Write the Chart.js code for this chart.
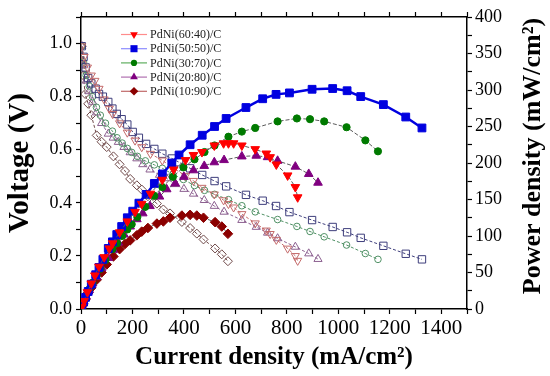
<!DOCTYPE html>
<html>
<head>
<meta charset="utf-8">
<script src="https://cdn.jsdelivr.net/npm/chart.js@4.4.1/dist/chart.umd.min.js"></script>
<style>
  html, body { margin: 0; padding: 0; background: #fff; }
  #wrap { width: 550px; height: 376px; }
</style>
</head>
<body>
<div id="wrap"><canvas id="chart" width="550" height="376"></canvas></div>
<script>
// current density (mA/cm2), voltage (V), power density (mW/cm2)
const curRed = [3, 12, 25, 40, 54, 70, 90, 110, 123, 150, 180, 210, 236, 270, 316, 360, 406, 437, 470, 518, 554, 573, 593, 625, 677, 720, 735, 759, 803, 833, 842];
const voltRed = [0.99, 0.95, 0.91, 0.88, 0.86, 0.83, 0.79, 0.755, 0.735, 0.70, 0.665, 0.635, 0.61, 0.585, 0.56, 0.53, 0.502, 0.483, 0.457, 0.432, 0.41, 0.396, 0.383, 0.358, 0.323, 0.296, 0.283, 0.261, 0.228, 0.2, 0.182];
const powRed = [3, 11, 23, 35, 46, 58, 71, 83, 90, 105, 120, 133, 144, 158, 177, 191, 204, 211, 215, 224, 227, 227, 227, 224, 219, 213, 208, 198, 183, 167, 153];

const curBlue = [3, 10, 18, 28, 40, 57, 70, 85, 106, 122, 139, 158, 180, 201, 225, 253, 285, 316, 353, 381, 424, 471, 519, 564, 641, 706, 758, 810, 898, 978, 1034, 1087, 1175, 1262, 1325];
const voltBlue = [0.99, 0.95, 0.91, 0.87, 0.85, 0.83, 0.81, 0.80, 0.78, 0.755, 0.735, 0.715, 0.695, 0.667, 0.645, 0.622, 0.603, 0.585, 0.567, 0.553, 0.53, 0.505, 0.482, 0.462, 0.43, 0.408, 0.388, 0.365, 0.335, 0.309, 0.289, 0.268, 0.238, 0.208, 0.187];
const powBlue = [3, 9.5, 16, 24, 34, 47, 57, 68, 83, 92, 102, 113, 125, 134, 145, 157, 172, 185, 200, 211, 225, 238, 250, 261, 276, 288, 294, 296, 301, 302, 299, 291, 280, 263, 248];

const curGreen = [3, 10, 20, 32, 45, 60, 75, 95, 122, 140, 160, 180, 197, 219, 250, 285, 316, 357, 398, 441, 480, 519, 573, 625, 677, 764, 839, 890, 945, 1032, 1105, 1154];
const voltGreen = [0.99, 0.93, 0.88, 0.84, 0.80, 0.76, 0.73, 0.70, 0.67, 0.645, 0.625, 0.605, 0.59, 0.575, 0.558, 0.543, 0.53, 0.508, 0.488, 0.465, 0.447, 0.432, 0.412, 0.389, 0.366, 0.337, 0.311, 0.292, 0.272, 0.241, 0.209, 0.187];
const powGreen = [3, 9, 18, 27, 36, 46, 55, 67, 82, 90, 100, 109, 116, 126, 140, 155, 167, 181, 194, 205, 215, 224, 236, 243, 248, 257, 261, 260, 257, 249, 231, 216];

const curPurple = [3, 10, 20, 32, 45, 60, 80, 106, 125, 145, 167, 191, 217, 240, 268, 305, 333, 366, 400, 437, 479, 518, 556, 625, 681, 725, 764, 833, 885, 921];
const voltPurple = [0.99, 0.92, 0.86, 0.82, 0.78, 0.74, 0.70, 0.66, 0.645, 0.629, 0.61, 0.59, 0.567, 0.545, 0.525, 0.505, 0.492, 0.47, 0.452, 0.434, 0.41, 0.388, 0.366, 0.335, 0.309, 0.287, 0.266, 0.234, 0.209, 0.188];
const powPurple = [3, 9, 17, 26, 35, 44, 56, 70, 81, 91, 102, 113, 123, 131, 141, 154, 164, 172, 181, 190, 196, 201, 204, 209, 210, 208, 203, 195, 185, 173];

const curDark = [3, 9, 16, 28, 40, 61, 80, 100, 126, 150, 171, 191, 217, 236, 260, 295, 320, 346, 392, 424, 450, 476, 521, 547, 571];
const voltDark = [0.99, 0.88, 0.81, 0.773, 0.73, 0.654, 0.63, 0.61, 0.575, 0.545, 0.52, 0.49, 0.466, 0.45, 0.425, 0.397, 0.375, 0.36, 0.328, 0.305, 0.284, 0.262, 0.228, 0.206, 0.18];
const powDark = [3, 8, 13, 22, 29, 40, 50, 61, 72, 82, 89, 94, 101, 106, 111, 117, 120, 125, 128, 129, 128, 125, 119, 113, 103];

const labels = ['PdNi(60:40)/C', 'PdNi(50:50)/C', 'PdNi(30:70)/C', 'PdNi(20:80)/C', 'PdNi(10:90)/C'];

const SERIF = "'Liberation Serif', 'Times New Roman', serif";

const series = [
  { cur: curRed, volt: voltRed, pow: powRed, fill: '#ff0000', open: '#c46a6a', legendLine: '#ff8c8c', shape: 'triangle', rot: 180, r: 5 },
  { cur: curBlue, volt: voltBlue, pow: powBlue, fill: '#0000e0', open: '#3e3e7c', legendLine: '#8c8cff', shape: 'rect', rot: 0, r: 5.5 },
  { cur: curGreen, volt: voltGreen, pow: powGreen, fill: '#007a00', open: '#4f9064', legendLine: '#5fae5f', shape: 'circle', rot: 0, r: 3.6 },
  { cur: curPurple, volt: voltPurple, pow: powPurple, fill: '#800080', open: '#8c6090', legendLine: '#b070b0', shape: 'triangle', rot: 0, r: 5 },
  { cur: curDark, volt: voltDark, pow: powDark, fill: '#8b0000', open: '#6e4848', legendLine: '#c06868', shape: 'rectRot', rot: 0, r: 4.8 }
];

const pts = (xs, ys) => xs.map((x, i) => ({ x: x, y: ys[i] }));

const filledSets = series.map((s, i) => ({
  label: labels[i],
  data: pts(s.cur, s.pow),
  yAxisID: 'y2',
  showLine: true,
  borderColor: i === 1 ? s.fill : '#5a5a5a',
  borderWidth: i === 1 ? 2.5 : 1,
  borderDash: i === 1 ? [] : [4, 2],
  pointStyle: s.shape,
  pointRotation: s.rot,
  pointRadius: s.r,
  pointBackgroundColor: s.fill,
  pointBorderColor: s.fill,
  pointBorderWidth: 1
}));

const openSets = series.map((s, i) => ({
  label: labels[i] + ' V',
  data: pts(s.cur, s.volt),
  yAxisID: 'y',
  showLine: true,
  borderColor: s.open,
  borderWidth: 1,
  borderDash: [3, 2],
  pointStyle: s.shape,
  pointRotation: s.rot,
  pointRadius: s.r - 0.3,
  pointBackgroundColor: 'rgba(255,255,255,0)',
  pointBorderColor: s.open,
  pointBorderWidth: 1
}));

function drawShape(ctx, shape, rot, x, y, r) {
  ctx.beginPath();
  if (shape === 'circle') {
    ctx.arc(x, y, r, 0, Math.PI * 2);
  } else if (shape === 'rect') {
    const h = r * Math.SQRT1_2;
    ctx.rect(x - h, y - h, 2 * h, 2 * h);
  } else if (shape === 'rectRot') {
    ctx.moveTo(x - r, y); ctx.lineTo(x, y - r); ctx.lineTo(x + r, y); ctx.lineTo(x, y + r);
    ctx.closePath();
  } else {
    const sgn = rot === 180 ? -1 : 1;
    ctx.moveTo(x, y - sgn * r);
    ctx.lineTo(x + r * 0.866, y + sgn * r * 0.5);
    ctx.lineTo(x - r * 0.866, y + sgn * r * 0.5);
    ctx.closePath();
  }
  ctx.fill();
}

const legendPlugin = {
  id: 'insideLegend',
  afterDraw(chart) {
    const ctx = chart.ctx;
    ctx.save();
    series.forEach((s, i) => {
      const y = 34.5 + i * 14.2;
      ctx.strokeStyle = s.legendLine;
      ctx.lineWidth = 1.2;
      ctx.beginPath();
      ctx.moveTo(121, y);
      ctx.lineTo(147, y);
      ctx.stroke();
      ctx.fillStyle = s.fill;
      drawShape(ctx, s.shape, s.rot, 134, y, s.r - 0.5);
      ctx.fillStyle = '#222';
      ctx.font = '12px ' + SERIF;
      ctx.textBaseline = 'middle';
      ctx.textAlign = 'left';
      ctx.fillText(labels[i], 150, y + 0.5);
    });
    // right axis title reads bottom to top, like the left one
    ctx.translate(533, 156);
    ctx.rotate(-Math.PI / 2);
    ctx.font = 'bold 26px ' + SERIF;
    ctx.fillStyle = '#000';
    ctx.textAlign = 'center';
    ctx.textBaseline = 'middle';
    ctx.fillText('Power density (mW/cm\u00B2)', 0, 0);
    ctx.restore();
  }
};

const axisGrid = { drawOnChartArea: false, drawTicks: true, tickLength: 5, tickColor: '#000', tickWidth: 1.2 };
const axisBorder = { display: true, color: '#000', width: 1.5 };

new Chart(document.getElementById('chart'), {
  type: 'scatter',
  data: { datasets: filledSets.concat(openSets) },
  options: {
    responsive: false,
    animation: false,
    devicePixelRatio: 1,
    layout: { padding: { top: 12, left: 0, right: 0, bottom: 0 } },
    plugins: { legend: { display: false }, tooltip: { enabled: false } },
    scales: {
      x: {
        type: 'linear', position: 'bottom', min: 0, max: 1500,
        border: axisBorder, grid: axisGrid,
        ticks: {
          stepSize: 100, autoSkip: false, maxRotation: 0, padding: 2, color: '#000',
          font: { family: SERIF, size: 21 },
          callback: v => (v % 200 === 0 && v < 1500) ? String(v) : ''
        },
        title: {
          display: true, text: 'Current density (mA/cm\u00B2)', color: '#000',
          font: { family: SERIF, size: 25, weight: 'bold' }, padding: { top: 0, bottom: 3 }
        },
        afterFit: s => { s.height = 67; }
      },
      x2: {
        type: 'linear', position: 'top', min: 0, max: 1500,
        border: axisBorder, grid: axisGrid,
        ticks: { stepSize: 100, autoSkip: false, display: false },
        afterFit: s => { s.height = 5; }
      },
      y: {
        type: 'linear', position: 'left', min: 0, max: 1.1,
        border: axisBorder, grid: axisGrid,
        ticks: {
          stepSize: 0.1, autoSkip: false, padding: 4, color: '#000',
          font: { family: SERIF, size: 18 },
          callback: v => {
            const k = Math.round(v * 10);
            return (k % 2 === 0 && k <= 10) ? (k / 10).toFixed(1) : '';
          }
        },
        title: {
          display: true, text: 'Voltage (V)', color: '#000',
          font: { family: SERIF, size: 29, weight: 'bold' }, padding: { top: 3, bottom: 0 }
        },
        afterFit: s => { s.width = 81; }
      },
      y2: {
        type: 'linear', position: 'right', min: 0, max: 400,
        border: axisBorder, grid: axisGrid,
        ticks: {
          stepSize: 25, autoSkip: false, padding: 3, color: '#000',
          font: { family: SERIF, size: 18 },
          callback: v => (v % 50 === 0) ? String(v) : ''
        },
        afterFit: s => { s.width = 83; }
      }
    }
  },
  plugins: [legendPlugin]
});
</script>
</body>
</html>
